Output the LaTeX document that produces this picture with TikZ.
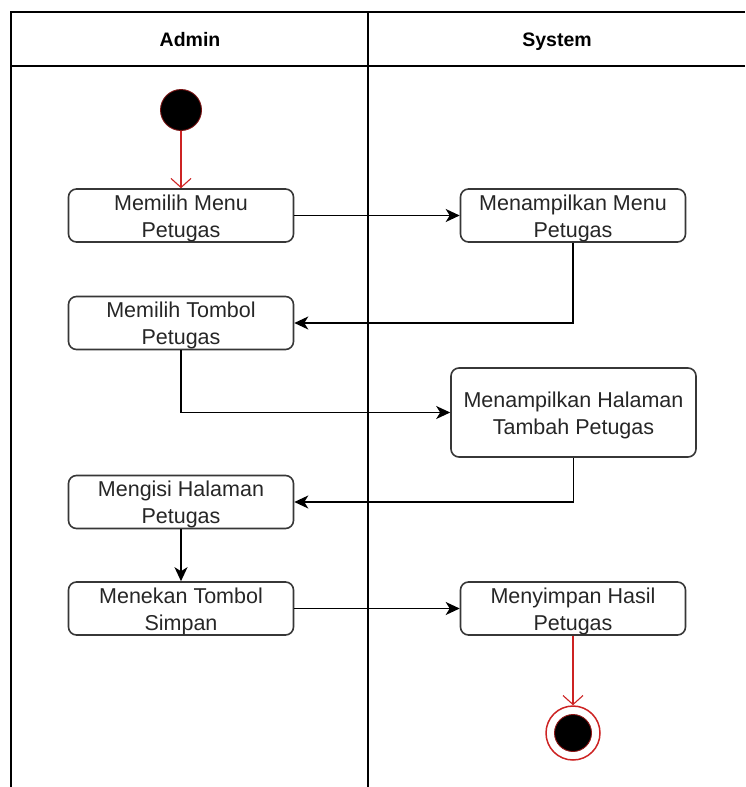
\documentclass[tikz,border=0pt]{standalone}
\usepackage{fontspec}
\setmainfont{Liberation Sans}
\usetikzlibrary{arrows.meta}
\definecolor{flowred}{RGB}{205,35,35}
\definecolor{boxline}{RGB}{55,55,55}
% two centred lines, set a little below the middle of the box
\newcommand{\twolines}[2]{\raisebox{-8pt}[0pt][0pt]{\begin{tabular}{@{}c@{}}#1\\#2\end{tabular}}}
\begin{document}
\begin{tikzpicture}[x=1pt,y=-1pt,
  lane/.style={line width=1.7pt,black},
  activity/.style={draw=boxline,line width=1.6pt,rounded corners=8pt,
    minimum width=225pt,minimum height=53pt,inner sep=0pt,
    font=\fontsize{21.5}{27}\selectfont,text=black!85},
  flow/.style={line width=1.6pt,black,-{Stealth[length=14pt,width=13pt,inset=4pt]}},
  redflow/.style={line width=1.1pt,flowred,-{Straight Barb[length=9pt,width=20pt,line width=1.1pt]}},
  lanehead/.style={font=\bfseries\fontsize{19.5}{22}\selectfont,anchor=base},
  startnode/.style={circle,fill=black,draw=flowred!60!black,line width=0.9pt,minimum size=41pt,inner sep=0pt},
  endring/.style={circle,draw=flowred,line width=1.5pt,fill=white,minimum size=54pt,inner sep=0pt},
  enddot/.style={circle,fill=black,draw=flowred!70!black,line width=0.9pt,minimum size=37pt,inner sep=0pt}]
\useasboundingbox (0,0) rectangle (745,787);

% swimlane frame
\draw[lane] (745,12) -- (11,12) -- (11,787);
\draw[lane] (11,66) -- (745,66);
\draw[lane] (368,12) -- (368,787);
\node[lanehead] (hAdmin) at (190,46) {Admin};
\node[lanehead] (hSystem) at (557,46) {System};

% start and end
\node[startnode] (start) at (181,110) {};
\node[endring] (stop) at (573,733) {};
\node[enddot] (stopdot) at (573,733) {};

% activities
\node[activity] (a1) at (181,215.5) {\twolines{Memilih Menu}{Petugas}};
\node[activity] (b1) at (573,215.5) {\twolines{Menampilkan Menu}{Petugas}};
\node[activity] (a2) at (181,323) {\twolines{Memilih Tombol}{Petugas}};
\node[activity,minimum width=245pt,minimum height=89pt] (b2) at (573.5,412.5) {\twolines{Menampilkan Halaman}{Tambah Petugas}};
\node[activity] (a3) at (181,502) {\twolines{Mengisi Halaman}{Petugas}};
\node[activity] (a4) at (181,608.5) {\twolines{Menekan Tombol}{Simpan}};
\node[activity] (b3) at (573,608.5) {\twolines{Menyimpan Hasil}{Petugas}};

% control flow
\draw[redflow] (start) -- (a1);
\draw[flow] (a1) -- (b1);
\draw[flow] (b1.south) |- (a2.east);
\draw[flow] (a2.south) |- (b2.west);
\draw[flow] (b2.south) |- (a3.east);
\draw[flow] (a3) -- (a4);
\draw[flow] (a4) -- (b3);
\draw[redflow] (b3) -- (stop);
\end{tikzpicture}
\end{document}
